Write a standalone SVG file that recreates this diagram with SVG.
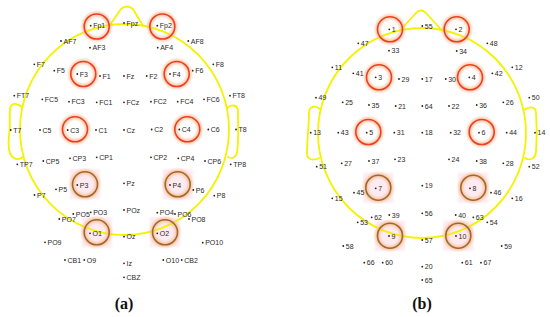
<svg xmlns="http://www.w3.org/2000/svg" width="550" height="317" viewBox="0 0 550 317">
<style>
text{font-family:"Liberation Sans",Arial,sans-serif;font-size:7px;fill:#2a2a2a}
.d{fill:#222}
.head{fill:none;stroke:#f5f200;stroke-width:1.8;stroke-linejoin:round;stroke-linecap:round}
.halo{fill:none;stroke:#f7b98f;stroke-width:5;opacity:.7;filter:url(#blur)}
.rr{fill:none;stroke:#f23c22;stroke-width:1.6}
.rb{fill:none;stroke:#a0692a;stroke-width:1.6}
.pk{fill:#fdebf1;filter:url(#soft)}
.cap{font-family:"Liberation Serif","Times New Roman",serif;font-size:16px;font-weight:bold;fill:#111;text-anchor:middle}
</style>
<defs>
<filter id="blur" x="-50%" y="-50%" width="200%" height="200%"><feGaussianBlur stdDeviation="1.3"/></filter>
<filter id="soft" x="-20%" y="-20%" width="140%" height="140%"><feGaussianBlur stdDeviation="0.8"/></filter>
</defs>
<rect width="550" height="317" fill="#fff"/>
<g id="bg">
<rect class="pk" x="70" y="169.3" width="30" height="30"/>
<rect class="pk" x="162.7" y="169.3" width="30" height="30"/>
<rect class="pk" x="81.7" y="217.3" width="30" height="30"/>
<rect class="pk" x="150" y="217.3" width="30" height="30"/>
<rect class="pk" x="363.3" y="172.7" width="30" height="30"/>
<rect class="pk" x="458.3" y="172.7" width="30" height="30"/>
<rect class="pk" x="375" y="220.7" width="30" height="30"/>
<rect class="pk" x="443.3" y="220.7" width="30" height="30"/>
</g>
<g id="connectors">
<g id="head-a">
<ellipse class="head" cx="124.5" cy="129.5" rx="104.5" ry="105.5"/>
<path class="head" d="M110,25 L121,9 Q127,4 133,9 L143,26"/>
<path class="head" d="M22,107 C17,103 11,102 10,109 C9,120 11,125 9,135 C8,145 8,155 14,158 C17,160 20,159 23,157"/>
<path class="head" d="M227,108 C231,104 238,104 238,112 C238,125 239,140 237,152 C236,158 232,159 228,157"/>
</g>
<g id="head-b">
<ellipse class="head" cx="422" cy="133" rx="104" ry="105"/>
<path class="head" d="M400,30.5 L416,13 Q421,8 426,13 L442,30.5"/>
<path class="head" d="M320,109 C315,105 309,106 309,113 C309,125 307,140 307,153 C307,160 313,161 319,158"/>
<path class="head" d="M524,110 C529,106 536,106 536,113 C537,125 537,140 536,152 C535,159 530,161 525,158"/>
</g>
</g>
<g id="rings">
<circle class="halo" cx="96.7" cy="26.5" r="12.5"/><circle class="rr" cx="96.7" cy="26.5" r="12.5"/>
<circle class="halo" cx="162.3" cy="26.5" r="12.5"/><circle class="rr" cx="162.3" cy="26.5" r="12.5"/>
<circle class="halo" cx="83.3" cy="74" r="12.5"/><circle class="rr" cx="83.3" cy="74" r="12.5"/>
<circle class="halo" cx="176.7" cy="74" r="12.5"/><circle class="rr" cx="176.7" cy="74" r="12.5"/>
<circle class="halo" cx="75" cy="129.3" r="12.5"/><circle class="rr" cx="75" cy="129.3" r="12.5"/>
<circle class="halo" cx="187.3" cy="129.3" r="12.5"/><circle class="rr" cx="187.3" cy="129.3" r="12.5"/>
<circle class="halo" cx="85" cy="184.3" r="12.5"/><circle class="rb" cx="85" cy="184.3" r="12.5"/>
<circle class="halo" cx="177.7" cy="184.3" r="12.5"/><circle class="rb" cx="177.7" cy="184.3" r="12.5"/>
<circle class="halo" cx="96.7" cy="232.3" r="12.5"/><circle class="rb" cx="96.7" cy="232.3" r="12.5"/>
<circle class="halo" cx="165" cy="232.3" r="12.5"/><circle class="rb" cx="165" cy="232.3" r="12.5"/>
<circle class="halo" cx="390" cy="29.3" r="12.5"/><circle class="rr" cx="390" cy="29.3" r="12.5"/>
<circle class="halo" cx="456.7" cy="29.3" r="12.5"/><circle class="rr" cx="456.7" cy="29.3" r="12.5"/>
<circle class="halo" cx="379" cy="77.3" r="12.5"/><circle class="rr" cx="379" cy="77.3" r="12.5"/>
<circle class="halo" cx="470" cy="77.3" r="12.5"/><circle class="rr" cx="470" cy="77.3" r="12.5"/>
<circle class="halo" cx="368.3" cy="132" r="12.5"/><circle class="rr" cx="368.3" cy="132" r="12.5"/>
<circle class="halo" cx="481.7" cy="132" r="12.5"/><circle class="rr" cx="481.7" cy="132" r="12.5"/>
<circle class="halo" cx="378.3" cy="187.7" r="12.5"/><circle class="rb" cx="378.3" cy="187.7" r="12.5"/>
<circle class="halo" cx="473.3" cy="187.7" r="12.5"/><circle class="rb" cx="473.3" cy="187.7" r="12.5"/>
<circle class="halo" cx="390" cy="235.7" r="12.5"/><circle class="rb" cx="390" cy="235.7" r="12.5"/>
<circle class="halo" cx="458.3" cy="235.7" r="12.5"/><circle class="rb" cx="458.3" cy="235.7" r="12.5"/>
</g>
<g id="nodes-a">
<g id="e-Fp1"><circle class="d" cx="90.7" cy="25.7" r="0.9"/><text x="93.2" y="28.2">Fp1</text></g>
<g id="e-Fpz"><circle class="d" cx="124" cy="23" r="0.9"/><text x="126.5" y="25.5">Fpz</text></g>
<g id="e-Fp2"><circle class="d" cx="157.3" cy="25.7" r="0.9"/><text x="159.8" y="28.2">Fp2</text></g>
<g id="e-AF7"><circle class="d" cx="61" cy="41" r="0.9"/><text x="63.5" y="43.5">AF7</text></g>
<g id="e-AF3"><circle class="d" cx="90" cy="47.7" r="0.9"/><text x="92.5" y="50.2">AF3</text></g>
<g id="e-AF4"><circle class="d" cx="157.7" cy="47.7" r="0.9"/><text x="160.2" y="50.2">AF4</text></g>
<g id="e-AF8"><circle class="d" cx="188.3" cy="41" r="0.9"/><text x="190.8" y="43.5">AF8</text></g>
<g id="e-F7"><circle class="d" cx="34.3" cy="64.3" r="0.9"/><text x="36.8" y="66.8">F7</text></g>
<g id="e-F5"><circle class="d" cx="54.3" cy="70.7" r="0.9"/><text x="56.8" y="73.2">F5</text></g>
<g id="e-F3"><circle class="d" cx="77.3" cy="74" r="0.9"/><text x="79.8" y="76.5">F3</text></g>
<g id="e-F1"><circle class="d" cx="100" cy="76" r="0.9"/><text x="102.5" y="78.5">F1</text></g>
<g id="e-Fz"><circle class="d" cx="124" cy="76" r="0.9"/><text x="126.5" y="78.5">Fz</text></g>
<g id="e-F2"><circle class="d" cx="146.7" cy="76" r="0.9"/><text x="149.2" y="78.5">F2</text></g>
<g id="e-F4"><circle class="d" cx="170" cy="74" r="0.9"/><text x="172.5" y="76.5">F4</text></g>
<g id="e-F6"><circle class="d" cx="192.7" cy="70.7" r="0.9"/><text x="195.2" y="73.2">F6</text></g>
<g id="e-F8"><circle class="d" cx="213.3" cy="64.3" r="0.9"/><text x="215.8" y="66.8">F8</text></g>
<g id="e-FT7"><circle class="d" cx="14.3" cy="95.7" r="0.9"/><text x="16.8" y="98.2">FT7</text></g>
<g id="e-FC5"><circle class="d" cx="42.3" cy="99.3" r="0.9"/><text x="44.8" y="101.8">FC5</text></g>
<g id="e-FC3"><circle class="d" cx="69" cy="101.7" r="0.9"/><text x="71.5" y="104.2">FC3</text></g>
<g id="e-FC1"><circle class="d" cx="96.7" cy="102.3" r="0.9"/><text x="99.2" y="104.8">FC1</text></g>
<g id="e-FCz"><circle class="d" cx="124" cy="102.3" r="0.9"/><text x="126.5" y="104.8">FCz</text></g>
<g id="e-FC2"><circle class="d" cx="151" cy="101.7" r="0.9"/><text x="153.5" y="104.2">FC2</text></g>
<g id="e-FC4"><circle class="d" cx="177.7" cy="101.7" r="0.9"/><text x="180.2" y="104.2">FC4</text></g>
<g id="e-FC6"><circle class="d" cx="204" cy="99.3" r="0.9"/><text x="206.5" y="101.8">FC6</text></g>
<g id="e-FT8"><circle class="d" cx="230" cy="95.7" r="0.9"/><text x="232.5" y="98.2">FT8</text></g>
<g id="e-T7"><circle class="d" cx="10.7" cy="130" r="0.9"/><text x="13.2" y="132.5">T7</text></g>
<g id="e-C5"><circle class="d" cx="40" cy="130" r="0.9"/><text x="42.5" y="132.5">C5</text></g>
<g id="e-C3"><circle class="d" cx="67.7" cy="130" r="0.9"/><text x="70.2" y="132.5">C3</text></g>
<g id="e-C1"><circle class="d" cx="96" cy="130" r="0.9"/><text x="98.5" y="132.5">C1</text></g>
<g id="e-Cz"><circle class="d" cx="124" cy="130" r="0.9"/><text x="126.5" y="132.5">Cz</text></g>
<g id="e-C2"><circle class="d" cx="151.7" cy="129.5" r="0.9"/><text x="154.2" y="132">C2</text></g>
<g id="e-C4"><circle class="d" cx="179.3" cy="129.5" r="0.9"/><text x="181.8" y="132">C4</text></g>
<g id="e-C6"><circle class="d" cx="208.3" cy="129.5" r="0.9"/><text x="210.8" y="132">C6</text></g>
<g id="e-T8"><circle class="d" cx="236" cy="129.5" r="0.9"/><text x="238.5" y="132">T8</text></g>
<g id="e-TP7"><circle class="d" cx="17.3" cy="164.3" r="0.9"/><text x="19.8" y="166.8">TP7</text></g>
<g id="e-CP5"><circle class="d" cx="43.3" cy="161" r="0.9"/><text x="45.8" y="163.5">CP5</text></g>
<g id="e-CP3"><circle class="d" cx="70" cy="158.3" r="0.9"/><text x="72.5" y="160.8">CP3</text></g>
<g id="e-CP1"><circle class="d" cx="96.7" cy="157.3" r="0.9"/><text x="99.2" y="159.8">CP1</text></g>
<g id="e-CP2"><circle class="d" cx="151" cy="157.3" r="0.9"/><text x="153.5" y="159.8">CP2</text></g>
<g id="e-CP4"><circle class="d" cx="178.3" cy="158.3" r="0.9"/><text x="180.8" y="160.8">CP4</text></g>
<g id="e-CP6"><circle class="d" cx="205" cy="161" r="0.9"/><text x="207.5" y="163.5">CP6</text></g>
<g id="e-TP8"><circle class="d" cx="230.7" cy="164.3" r="0.9"/><text x="233.2" y="166.8">TP8</text></g>
<g id="e-P7"><circle class="d" cx="34.5" cy="195" r="0.9"/><text x="37" y="197.5">P7</text></g>
<g id="e-P5"><circle class="d" cx="56" cy="189.3" r="0.9"/><text x="58.5" y="191.8">P5</text></g>
<g id="e-P3"><circle class="d" cx="77.3" cy="185" r="0.9"/><text x="79.8" y="187.5">P3</text></g>
<g id="e-Pz"><circle class="d" cx="124" cy="183.3" r="0.9"/><text x="126.5" y="185.8">Pz</text></g>
<g id="e-P4"><circle class="d" cx="170" cy="185" r="0.9"/><text x="172.5" y="187.5">P4</text></g>
<g id="e-P6"><circle class="d" cx="193.3" cy="190" r="0.9"/><text x="195.8" y="192.5">P6</text></g>
<g id="e-P8"><circle class="d" cx="214.3" cy="195.7" r="0.9"/><text x="216.8" y="198.2">P8</text></g>
<g id="e-PO7"><circle class="d" cx="59.3" cy="219" r="0.9"/><text x="61.8" y="221.5">PO7</text></g>
<g id="e-PO5"><circle class="d" cx="73.3" cy="214" r="0.9"/><text x="75.8" y="216.5">PO5</text></g>
<g id="e-PO3"><circle class="d" cx="90.7" cy="212.3" r="0.9"/><text x="93.2" y="214.8">PO3</text></g>
<g id="e-POz"><circle class="d" cx="124" cy="210" r="0.9"/><text x="126.5" y="212.5">POz</text></g>
<g id="e-PO4"><circle class="d" cx="157.3" cy="212.7" r="0.9"/><text x="159.8" y="215.2">PO4</text></g>
<g id="e-PO6"><circle class="d" cx="175" cy="214" r="0.9"/><text x="177.5" y="216.5">PO6</text></g>
<g id="e-PO8"><circle class="d" cx="189" cy="219" r="0.9"/><text x="191.5" y="221.5">PO8</text></g>
<g id="e-O1"><circle class="d" cx="90" cy="233.3" r="0.9"/><text x="92.5" y="235.8">O1</text></g>
<g id="e-Oz"><circle class="d" cx="124" cy="236.7" r="0.9"/><text x="126.5" y="239.2">Oz</text></g>
<g id="e-O2"><circle class="d" cx="157.3" cy="233.3" r="0.9"/><text x="159.8" y="235.8">O2</text></g>
<g id="e-PO9"><circle class="d" cx="45" cy="242.3" r="0.9"/><text x="47.5" y="244.8">PO9</text></g>
<g id="e-PO10"><circle class="d" cx="202.7" cy="242.7" r="0.9"/><text x="205.2" y="245.2">PO10</text></g>
<g id="e-CB1"><circle class="d" cx="65" cy="260" r="0.9"/><text x="67.5" y="262.5">CB1</text></g>
<g id="e-O9"><circle class="d" cx="84.3" cy="260" r="0.9"/><text x="86.8" y="262.5">O9</text></g>
<g id="e-Iz"><circle class="d" cx="124" cy="263.3" r="0.9"/><text x="126.5" y="265.8">Iz</text></g>
<g id="e-O10"><circle class="d" cx="163.3" cy="260" r="0.9"/><text x="165.8" y="262.5">O10</text></g>
<g id="e-CB2"><circle class="d" cx="181.7" cy="260" r="0.9"/><text x="184.2" y="262.5">CB2</text></g>
<g id="e-CBZ"><circle class="d" cx="124" cy="277.3" r="0.9"/><text x="126.5" y="279.8">CBZ</text></g>
</g>
<g id="nodes-b">
<g id="c-1"><circle class="d" cx="389.3" cy="29.3" r="0.9"/><text x="391.8" y="31.8">1</text></g>
<g id="c-55"><circle class="d" cx="422.3" cy="26" r="0.9"/><text x="424.8" y="28.5">55</text></g>
<g id="c-2"><circle class="d" cx="456" cy="29.3" r="0.9"/><text x="458.5" y="31.8">2</text></g>
<g id="c-47"><circle class="d" cx="358.3" cy="43.3" r="0.9"/><text x="360.8" y="45.8">47</text></g>
<g id="c-33"><circle class="d" cx="389" cy="50.7" r="0.9"/><text x="391.5" y="53.2">33</text></g>
<g id="c-34"><circle class="d" cx="456.7" cy="51" r="0.9"/><text x="459.2" y="53.5">34</text></g>
<g id="c-48"><circle class="d" cx="487.3" cy="43.3" r="0.9"/><text x="489.8" y="45.8">48</text></g>
<g id="c-11"><circle class="d" cx="332.3" cy="67.3" r="0.9"/><text x="334.8" y="69.8">11</text></g>
<g id="c-41"><circle class="d" cx="353.3" cy="73.3" r="0.9"/><text x="355.8" y="75.8">41</text></g>
<g id="c-3"><circle class="d" cx="375.7" cy="77.3" r="0.9"/><text x="378.2" y="79.8">3</text></g>
<g id="c-29"><circle class="d" cx="399" cy="79" r="0.9"/><text x="401.5" y="81.5">29</text></g>
<g id="c-17"><circle class="d" cx="422.3" cy="79" r="0.9"/><text x="424.8" y="81.5">17</text></g>
<g id="c-30"><circle class="d" cx="445.7" cy="79" r="0.9"/><text x="448.2" y="81.5">30</text></g>
<g id="c-4"><circle class="d" cx="469.3" cy="77.3" r="0.9"/><text x="471.8" y="79.8">4</text></g>
<g id="c-42"><circle class="d" cx="492.3" cy="73.3" r="0.9"/><text x="494.8" y="75.8">42</text></g>
<g id="c-12"><circle class="d" cx="512.3" cy="67.3" r="0.9"/><text x="514.8" y="69.8">12</text></g>
<g id="c-49"><circle class="d" cx="316" cy="97.7" r="0.9"/><text x="318.5" y="100.2">49</text></g>
<g id="c-25"><circle class="d" cx="342.7" cy="102.3" r="0.9"/><text x="345.2" y="104.8">25</text></g>
<g id="c-35"><circle class="d" cx="369" cy="105" r="0.9"/><text x="371.5" y="107.5">35</text></g>
<g id="c-21"><circle class="d" cx="395.7" cy="106" r="0.9"/><text x="398.2" y="108.5">21</text></g>
<g id="c-64"><circle class="d" cx="422.3" cy="106" r="0.9"/><text x="424.8" y="108.5">64</text></g>
<g id="c-22"><circle class="d" cx="449" cy="106" r="0.9"/><text x="451.5" y="108.5">22</text></g>
<g id="c-36"><circle class="d" cx="476.7" cy="105" r="0.9"/><text x="479.2" y="107.5">36</text></g>
<g id="c-26"><circle class="d" cx="503.3" cy="102.3" r="0.9"/><text x="505.8" y="104.8">26</text></g>
<g id="c-50"><circle class="d" cx="529.3" cy="97.7" r="0.9"/><text x="531.8" y="100.2">50</text></g>
<g id="c-13"><circle class="d" cx="310.7" cy="132.7" r="0.9"/><text x="313.2" y="135.2">13</text></g>
<g id="c-43"><circle class="d" cx="338.3" cy="132.7" r="0.9"/><text x="340.8" y="135.2">43</text></g>
<g id="c-5"><circle class="d" cx="366.7" cy="132.7" r="0.9"/><text x="369.2" y="135.2">5</text></g>
<g id="c-31"><circle class="d" cx="394.3" cy="132.7" r="0.9"/><text x="396.8" y="135.2">31</text></g>
<g id="c-18"><circle class="d" cx="422.3" cy="132.7" r="0.9"/><text x="424.8" y="135.2">18</text></g>
<g id="c-32"><circle class="d" cx="450.7" cy="132.7" r="0.9"/><text x="453.2" y="135.2">32</text></g>
<g id="c-6"><circle class="d" cx="479" cy="132.7" r="0.9"/><text x="481.5" y="135.2">6</text></g>
<g id="c-44"><circle class="d" cx="506.7" cy="132.7" r="0.9"/><text x="509.2" y="135.2">44</text></g>
<g id="c-14"><circle class="d" cx="535" cy="132.7" r="0.9"/><text x="537.5" y="135.2">14</text></g>
<g id="c-51"><circle class="d" cx="316.7" cy="166.7" r="0.9"/><text x="319.2" y="169.2">51</text></g>
<g id="c-27"><circle class="d" cx="341.7" cy="163.3" r="0.9"/><text x="344.2" y="165.8">27</text></g>
<g id="c-37"><circle class="d" cx="369" cy="161" r="0.9"/><text x="371.5" y="163.5">37</text></g>
<g id="c-23"><circle class="d" cx="395" cy="159.3" r="0.9"/><text x="397.5" y="161.8">23</text></g>
<g id="c-24"><circle class="d" cx="449" cy="159.3" r="0.9"/><text x="451.5" y="161.8">24</text></g>
<g id="c-38"><circle class="d" cx="476.7" cy="161" r="0.9"/><text x="479.2" y="163.5">38</text></g>
<g id="c-28"><circle class="d" cx="503.3" cy="163.3" r="0.9"/><text x="505.8" y="165.8">28</text></g>
<g id="c-52"><circle class="d" cx="529.3" cy="166.7" r="0.9"/><text x="531.8" y="169.2">52</text></g>
<g id="c-45"><circle class="d" cx="354" cy="192.7" r="0.9"/><text x="356.5" y="195.2">45</text></g>
<g id="c-7"><circle class="d" cx="375.7" cy="188.3" r="0.9"/><text x="378.2" y="190.8">7</text></g>
<g id="c-19"><circle class="d" cx="422.3" cy="185.7" r="0.9"/><text x="424.8" y="188.2">19</text></g>
<g id="c-8"><circle class="d" cx="470" cy="188.3" r="0.9"/><text x="472.5" y="190.8">8</text></g>
<g id="c-46"><circle class="d" cx="491" cy="192.7" r="0.9"/><text x="493.5" y="195.2">46</text></g>
<g id="c-15"><circle class="d" cx="332.3" cy="198.3" r="0.9"/><text x="334.8" y="200.8">15</text></g>
<g id="c-16"><circle class="d" cx="512.3" cy="198.3" r="0.9"/><text x="514.8" y="200.8">16</text></g>
<g id="c-62"><circle class="d" cx="371.7" cy="217.3" r="0.9"/><text x="374.2" y="219.8">62</text></g>
<g id="c-39"><circle class="d" cx="389.3" cy="215" r="0.9"/><text x="391.8" y="217.5">39</text></g>
<g id="c-56"><circle class="d" cx="422.3" cy="213.3" r="0.9"/><text x="424.8" y="215.8">56</text></g>
<g id="c-40"><circle class="d" cx="455.7" cy="215" r="0.9"/><text x="458.2" y="217.5">40</text></g>
<g id="c-63"><circle class="d" cx="473.3" cy="217.3" r="0.9"/><text x="475.8" y="219.8">63</text></g>
<g id="c-53"><circle class="d" cx="357.7" cy="222.3" r="0.9"/><text x="360.2" y="224.8">53</text></g>
<g id="c-54"><circle class="d" cx="487.3" cy="222.3" r="0.9"/><text x="489.8" y="224.8">54</text></g>
<g id="c-9"><circle class="d" cx="389" cy="236" r="0.9"/><text x="391.5" y="238.5">9</text></g>
<g id="c-57"><circle class="d" cx="422.3" cy="240" r="0.9"/><text x="424.8" y="242.5">57</text></g>
<g id="c-10"><circle class="d" cx="456" cy="236" r="0.9"/><text x="458.5" y="238.5">10</text></g>
<g id="c-58"><circle class="d" cx="343.3" cy="246" r="0.9"/><text x="345.8" y="248.5">58</text></g>
<g id="c-59"><circle class="d" cx="501.7" cy="246" r="0.9"/><text x="504.2" y="248.5">59</text></g>
<g id="c-66"><circle class="d" cx="364.3" cy="262.7" r="0.9"/><text x="366.8" y="265.2">66</text></g>
<g id="c-60"><circle class="d" cx="382.7" cy="262.7" r="0.9"/><text x="385.2" y="265.2">60</text></g>
<g id="c-61"><circle class="d" cx="462.3" cy="262.7" r="0.9"/><text x="464.8" y="265.2">61</text></g>
<g id="c-67"><circle class="d" cx="481" cy="262.7" r="0.9"/><text x="483.5" y="265.2">67</text></g>
<g id="c-20"><circle class="d" cx="422.3" cy="266.7" r="0.9"/><text x="424.8" y="269.2">20</text></g>
<g id="c-65"><circle class="d" cx="422.3" cy="280" r="0.9"/><text x="424.8" y="282.5">65</text></g>
</g>
<g id="captions">
<text class="cap" x="124" y="309">(a)</text>
<text class="cap" x="422" y="309">(b)</text>
</g>
</svg>
